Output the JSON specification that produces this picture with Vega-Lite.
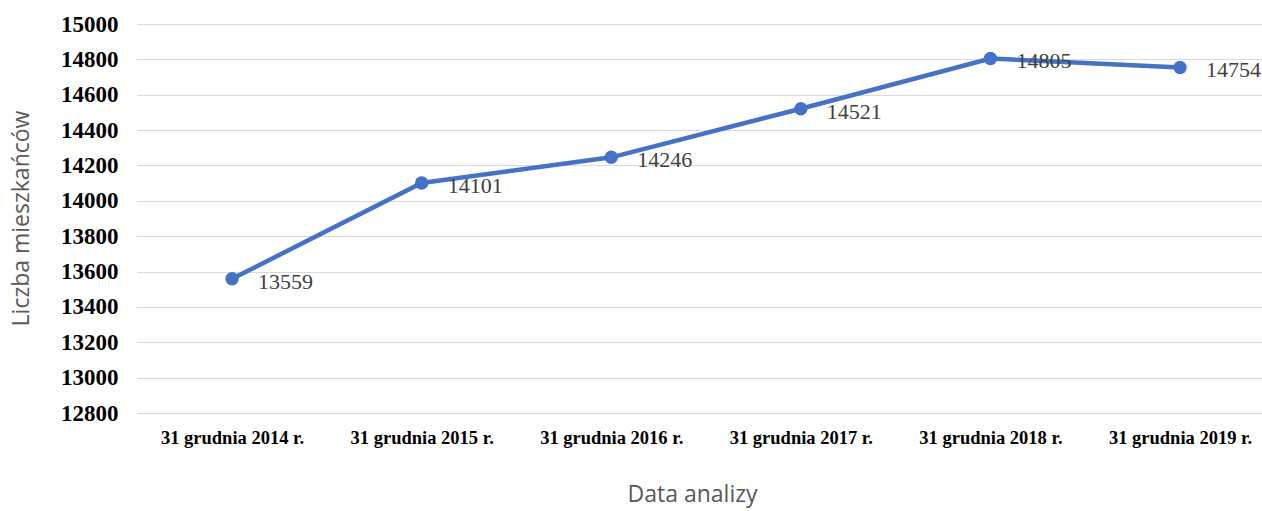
{
  "$schema": "https://vega.github.io/schema/vega-lite/v6.json",
  "width": 1125,
  "height": 389,
  "autosize": "none",
  "padding": {"left": 137, "top": 24, "right": 0, "bottom": 98},
  "background": "white",
  "config": {"view": {"stroke": null}},
  "data": {
    "values": [
      {"data": "31 grudnia 2014 r.", "liczba": 13559},
      {"data": "31 grudnia 2015 r.", "liczba": 14101},
      {"data": "31 grudnia 2016 r.", "liczba": 14246},
      {"data": "31 grudnia 2017 r.", "liczba": 14521},
      {"data": "31 grudnia 2018 r.", "liczba": 14805},
      {"data": "31 grudnia 2019 r.", "liczba": 14754}
    ]
  },
  "encoding": {
    "x": {
      "field": "data",
      "type": "ordinal",
      "sort": null,
      "scale": {"type": "point", "padding": 0.4668, "align": 0.537},
      "axis": {
        "title": "Data analizy",
        "labelAngle": 0,
        "labelFont": "Liberation Serif",
        "labelFontWeight": "bold",
        "labelFontSize": 18.5,
        "labelColor": "#000000",
        "labelPadding": 15,
        "ticks": false,
        "domain": false,
        "grid": false,
        "titleFont": "Open Sans",
        "titleFontWeight": "normal",
        "titleFontSize": 23,
        "titleColor": "#595959",
        "titleBaseline": "alphabetic",
        "titleX": 555,
        "titleY": 88
      }
    },
    "y": {
      "field": "liczba",
      "type": "quantitative",
      "scale": {"domain": [12800, 15000], "nice": false, "zero": false},
      "axis": {
        "title": "Liczba mieszkańców",
        "format": "d",
        "values": [12800, 13000, 13200, 13400, 13600, 13800, 14000, 14200, 14400, 14600, 14800, 15000],
        "labelFont": "Liberation Serif",
        "labelFontWeight": "bold",
        "labelFontSize": 23,
        "labelColor": "#000000",
        "labelPadding": 19,
        "ticks": false,
        "domain": false,
        "grid": true,
        "gridColor": "#d9d9d9",
        "gridWidth": 1.2,
        "titleFont": "Open Sans",
        "titleFontWeight": "normal",
        "titleFontSize": 23,
        "titleColor": "#595959",
        "titleBaseline": "alphabetic",
        "titleX": -109,
        "titleY": 194
      }
    }
  },
  "layer": [
    {
      "mark": {"type": "line", "color": "#4472C4", "strokeWidth": 4.5}
    },
    {
      "mark": {"type": "point", "filled": true, "color": "#4472C4", "opacity": 1, "size": 180}
    },
    {
      "mark": {"type": "text", "align": "left", "baseline": "middle", "dx": 26, "dy": 3, "font": "Liberation Serif", "fontSize": 22, "color": "#404040"},
      "encoding": {"text": {"field": "liczba", "type": "quantitative", "format": "d"}}
    }
  ]
}
